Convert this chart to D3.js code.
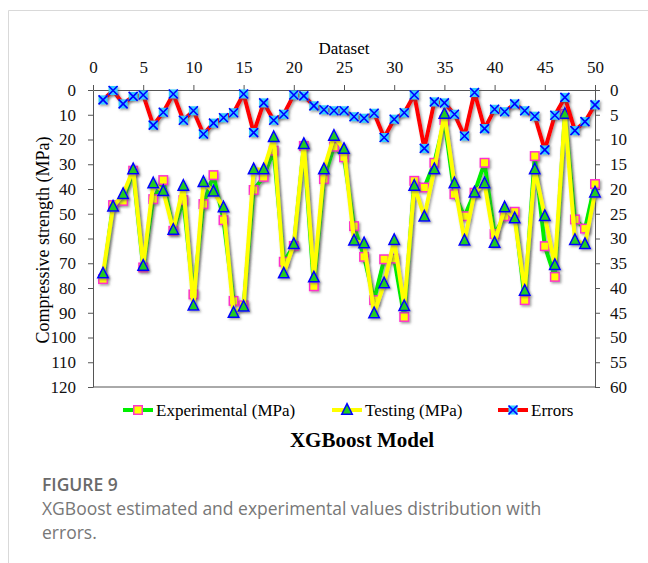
<!DOCTYPE html>
<html>
<head>
<meta charset="utf-8">
<script src="https://cdn.jsdelivr.net/npm/d3@7"></script>
<style>
  body { margin: 0; background: #fff; }
  svg { display: block; }
</style>
</head>
<body>
<div id="chart"></div>
<script>
// dataset index 1..50
const datasetIds = d3.range(1, 51);

const experimental = [
  76.4, 46.5, 44.8, 32.6, 71.7, 44.1, 36.4, 56.9, 44.5, 82.6,
  46.1, 34.4, 52.6, 85.2, 87.0, 40.4, 35.1, 24.5, 69.4, 63.0,
  22.6, 79.3, 36.0, 22.9, 27.2, 55.0, 67.4, 84.9, 68.4, 68.1,
  91.7, 36.7, 39.4, 29.4, 12.1, 42.1, 51.0, 41.5, 29.4, 58.2,
  51.0, 49.2, 84.9, 26.7, 63.1, 75.5, 9.7, 52.3, 56.0, 38.0
];

const testing = [
  74.2, 47.2, 42.1, 32.1, 71.1, 37.8, 40.9, 56.6, 38.8, 87.2,
  37.3, 41.1, 47.5, 90.1, 87.6, 32.1, 32.1, 19.1, 74.2, 62.3,
  21.9, 75.8, 32.1, 18.6, 23.9, 60.9, 62.0, 90.3, 78.2, 60.7,
  87.4, 38.8, 51.2, 32.1, 9.7, 37.8, 60.9, 41.5, 37.8, 61.8,
  47.5, 51.9, 81.2, 32.1, 51.0, 70.8, 9.7, 60.7, 62.3, 41.5
];

const errors = [
  2.0, 0.1, 2.8, 1.3, 1.0, 7.1, 4.5, 0.8, 6.1, 4.2,
  8.9, 6.7, 5.6, 4.6, 0.8, 8.6, 2.6, 6.1, 4.9, 1.0,
  1.2, 3.2, 4.0, 4.2, 4.2, 5.4, 5.7, 4.7, 9.6, 5.9,
  4.6, 1.0, 11.8, 2.4, 2.6, 4.9, 9.3, 0.5, 7.8, 3.9,
  4.4, 2.8, 4.2, 5.3, 12.1, 5.1, 1.5, 8.2, 6.4, 3.0
];

const xTicks = [0, 5, 10, 15, 20, 25, 30, 35, 40, 45, 50];
const leftTicks = [0, 10, 20, 30, 40, 50, 60, 70, 80, 90, 100, 110, 120];
const rightTicks = [0, 5, 10, 15, 20, 25, 30, 35, 40, 45, 50, 55, 60];

const width = 648, height = 563;
const margin = {top: 90, right: 53, bottom: 176, left: 93};
const serif = '"Liberation Serif", "Times New Roman", serif';
const sans = '"Open Sans", "Noto Sans", sans-serif';

const svg = d3.select('#chart')
  .append('svg')
  .attr('width', width)
  .attr('height', height);

svg.append('rect').attr('width', width).attr('height', height).attr('fill', '#fff');

// card border
svg.append('path')
  .attr('d', 'M8.5,' + height + 'V10.5H' + width)
  .attr('fill', 'none')
  .attr('stroke', '#d9d9d9')
  .attr('stroke-width', 1);

const defs = svg.append('defs');
const shadow = defs.append('filter')
  .attr('id', 'shadow')
  .attr('x', '-10%').attr('y', '-10%')
  .attr('width', '120%').attr('height', '120%');
shadow.append('feDropShadow')
  .attr('dx', 1.5).attr('dy', 1.5)
  .attr('stdDeviation', 1.2)
  .attr('flood-color', '#555')
  .attr('flood-opacity', 0.55);

const x = d3.scaleLinear()
  .domain([0, 50])
  .range([margin.left, width - margin.right]);

const yLeft = d3.scaleLinear()
  .domain([0, 120])
  .range([margin.top, height - margin.bottom]);

const yRight = d3.scaleLinear()
  .domain([0, 60])
  .range([margin.top, height - margin.bottom]);

// axes
function styleAxis(g) {
  g.selectAll('path, line').attr('stroke', '#555').attr('stroke-width', 1);
  g.selectAll('text').attr('font-family', serif).attr('font-size', 17).attr('fill', '#111');
}

svg.append('g')
  .attr('transform', 'translate(0,' + margin.top + ')')
  .call(d3.axisTop(x).tickValues(xTicks).tickSize(5).tickSizeOuter(0).tickPadding(12))
  .call(styleAxis);

svg.append('g')
  .attr('transform', 'translate(' + margin.left + ',0)')
  .call(d3.axisLeft(yLeft).tickValues(leftTicks).tickSize(5).tickSizeOuter(0).tickPadding(12))
  .call(styleAxis);

svg.append('g')
  .attr('transform', 'translate(' + (width - margin.right) + ',0)')
  .call(d3.axisRight(yRight).tickValues(rightTicks).tickSize(5).tickSizeOuter(0).tickPadding(10))
  .call(styleAxis);

svg.append('line')
  .attr('x1', margin.left).attr('x2', width - margin.right)
  .attr('y1', height - margin.bottom).attr('y2', height - margin.bottom)
  .attr('stroke', '#555');

svg.append('text')
  .attr('x', 344).attr('y', 54)
  .attr('text-anchor', 'middle')
  .attr('font-family', serif).attr('font-size', 17)
  .text('Dataset');

svg.append('text')
  .attr('transform', 'translate(49,' + 240 + ') rotate(-90)')
  .attr('text-anchor', 'middle')
  .attr('font-family', serif).attr('font-size', 18)
  .text('Compressive strength (MPa)');

// marker helpers
function squareMarker(sel, size) {
  sel.append('rect')
    .attr('x', -size / 2).attr('y', -size / 2)
    .attr('width', size).attr('height', size)
    .attr('fill', '#ffff00')
    .attr('stroke', '#ff33cc')
    .attr('stroke-width', 1.5);
}

function triangleMarker(sel, size) {
  sel.append('path')
    .attr('d', 'M0,' + (-size * 0.6) + 'L' + (size / 2) + ',' + (size * 0.4) + 'L' + (-size / 2) + ',' + (size * 0.4) + 'Z')
    .attr('fill', '#22cc22')
    .attr('stroke', '#0000ff')
    .attr('stroke-width', 1.5);
}

function crossMarker(sel, size) {
  const h = size / 2;
  sel.append('rect')
    .attr('x', -h).attr('y', -h)
    .attr('width', size).attr('height', size)
    .attr('fill', '#33ccff');
  sel.append('path')
    .attr('d', 'M' + (-h) + ',' + (-h) + 'L' + h + ',' + h + 'M' + h + ',' + (-h) + 'L' + (-h) + ',' + h)
    .attr('stroke', '#0000ff')
    .attr('stroke-width', 1.6);
}

const series = [
  {name: 'Experimental (MPa)', values: experimental, y: yLeft, color: '#00ee00', marker: squareMarker, size: 8.5},
  {name: 'Testing (MPa)', values: testing, y: yLeft, color: '#ffff00', marker: triangleMarker, size: 10.5},
  {name: 'Errors', values: errors, y: yRight, color: '#ff0000', marker: crossMarker, size: 9}
];

series.forEach(s => {
  const line = d3.line()
    .x((d, i) => x(datasetIds[i]))
    .y(d => s.y(d));

  svg.append('path')
    .datum(s.values)
    .attr('d', line)
    .attr('fill', 'none')
    .attr('stroke', s.color)
    .attr('stroke-width', 4)
    .attr('stroke-linejoin', 'round')
    .attr('filter', 'url(#shadow)');

  svg.append('g')
    .attr('filter', 'url(#shadow)')
    .selectAll('g')
    .data(s.values)
    .enter()
    .append('g')
    .attr('transform', (d, i) => 'translate(' + x(datasetIds[i]) + ',' + s.y(d) + ')')
    .each(function() { s.marker(d3.select(this), s.size); });
});

// legend
const legendX = [123, 332, 498];
const legend = svg.append('g');
series.forEach((s, i) => {
  const g = legend.append('g').attr('transform', 'translate(' + legendX[i] + ',410)');
  g.append('line')
    .attr('x1', 0).attr('x2', 30)
    .attr('stroke', s.color).attr('stroke-width', 4);
  const m = g.append('g').attr('transform', 'translate(15,0)');
  s.marker(m, s.size);
  g.append('text')
    .attr('x', 33).attr('y', 6)
    .attr('font-family', serif).attr('font-size', 17)
    .text(s.name);
});

svg.append('text')
  .attr('x', 362).attr('y', 447)
  .attr('text-anchor', 'middle')
  .attr('font-family', serif).attr('font-size', 21).attr('font-weight', 'bold')
  .text('XGBoost Model');

// caption
svg.append('text')
  .attr('x', 42).attr('y', 491)
  .attr('font-family', sans).attr('font-size', 17.5).attr('font-weight', 600)
  .attr('fill', '#6a6a6a')
  .text('FIGURE 9');

svg.append('text')
  .attr('x', 42).attr('y', 515)
  .attr('font-family', sans).attr('font-size', 17.5)
  .attr('fill', '#777')
  .text('XGBoost estimated and experimental values distribution with');

svg.append('text')
  .attr('x', 42).attr('y', 539)
  .attr('font-family', sans).attr('font-size', 17.5)
  .attr('fill', '#777')
  .text('errors.');
</script>
</body>
</html>
